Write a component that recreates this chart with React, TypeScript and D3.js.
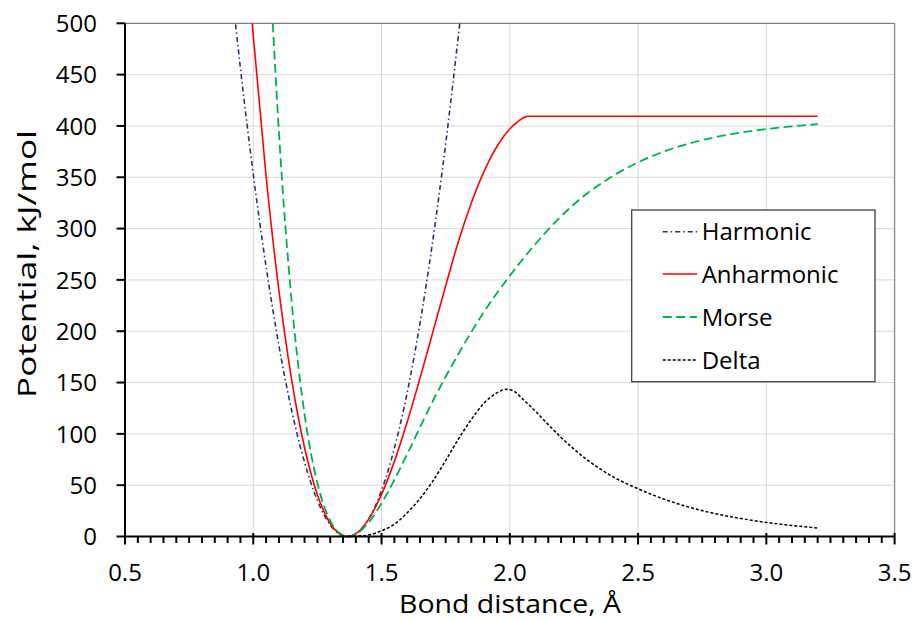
import React from "react";
import * as d3 from "d3";

// ---- data ----
const X_TICKS = [0.5, 1.0, 1.5, 2.0, 2.5, 3.0, 3.5];
const Y_TICKS = [0, 50, 100, 150, 200, 250, 300, 350, 400, 450, 500];

const harmonicR = [0.931, 0.95, 1.0, 1.05, 1.1, 1.15, 1.2, 1.25, 1.3, 1.33, 1.367, 1.4, 1.45, 1.5, 1.55, 1.6, 1.65, 1.7, 1.75, 1.805];
const harmonicV = [499, 456, 353, 263, 186, 122.5, 72.2, 35.1, 11.2, 3.2, 0, 2.4, 17, 44.8, 85.9, 140.2, 207.8, 288.6, 382.7, 500];

const anharmonicR = [0.996, 1.0, 1.05, 1.1, 1.15, 1.2, 1.25, 1.3, 1.33, 1.367, 1.4, 1.45, 1.5, 1.55, 1.6, 1.65, 1.7, 1.75, 1.8, 1.85, 1.9, 1.925, 1.95, 1.975, 2.0, 2.025, 2.05, 2.07, 2.1, 2.5, 3.0, 3.2];
const anharmonicV = [500, 488, 351, 239.7, 152.2, 86.5, 40.7, 12.7, 3.8, 0, 2.8, 16.9, 41.0, 73.2, 111.6, 154.3, 199.1, 244.2, 287.7, 325, 356, 369, 380, 389.5, 397, 403, 407.5, 409.5, 409.5, 409.5, 409.5, 409.5];

const morseR = [1.076, 1.1, 1.15, 1.2, 1.25, 1.3, 1.33, 1.37, 1.4, 1.45, 1.5, 1.55, 1.6, 1.7, 1.8, 1.9, 2.0, 2.1, 2.2, 2.3, 2.4, 2.5, 2.6, 2.7, 2.8, 2.9, 3.0, 3.1, 3.2];
const morseV = [500, 394, 228, 119, 52, 15.4, 4.7, 0, 2.2, 13.8, 32.4, 55.2, 80.3, 132, 178, 219, 254, 285, 312, 334, 351, 364.5, 375, 383, 389, 393.5, 397, 399.6, 401.7];

const deltaR = [1.37, 1.4, 1.45, 1.5, 1.55, 1.6, 1.65, 1.7, 1.75, 1.8, 1.85, 1.9, 1.95, 1.99, 2.02, 2.05, 2.1, 2.15, 2.2, 2.3, 2.4, 2.5, 2.6, 2.7, 2.8, 2.9, 3.0, 3.1, 3.2];
const deltaV = [0, 0.3, 1.5, 5.5, 12, 23, 37, 54, 74, 95, 114, 130, 140, 143.5, 141, 134, 122, 109, 96.5, 75, 58.5, 46.5, 36.5, 28.5, 22.3, 17.6, 13.7, 10.7, 8.2];

const SERIES_NAMES = ["Harmonic", "Anharmonic", "Morse", "Delta"];

const X_TITLE = "Bond distance, Å";
const Y_TITLE = "Potential, kJ/mol";

// ---- styles ----
const FONT = "'Open Sans', 'Noto Sans', sans-serif";
const styles = [
  { color: "#203864", dash: "5,3,1.5,3", width: 1.6 },
  { color: "#FF0000", dash: "", width: 1.6 },
  { color: "#00B050", dash: "9,4.5", width: 1.8 },
  { color: "#000000", dash: "3,2", width: 1.5 },
];

export default function App() {
  const W = 914, H = 619;
  const x = d3.scaleLinear().domain([0.5, 3.5]).range([125, 894.6]);
  const y = d3.scaleLinear().domain([0, 500]).range([536.5, 23.3]);

  const seriesData = [
    harmonicR.map((r, i) => [r, harmonicV[i]]),
    anharmonicR.map((r, i) => [r, anharmonicV[i]]),
    morseR.map((r, i) => [r, morseV[i]]),
    deltaR.map((r, i) => [r, deltaV[i]]),
  ];

  const line = d3
    .line<number[]>()
    .x((d) => x(d[0]))
    .y((d) => y(d[1]))
    .curve(d3.curveMonotoneX);

  const minorTicks = d3.range(0, 61).map((i) => 0.5 + i * 0.05).filter((v, i) => i % 10 !== 0);

  const legendX = 631.7, legendY = 210, legendW = 243.3, legendH = 171.7;
  const rowYs = [231.7, 274, 317, 360];

  return (
    <svg width={W} height={H} style={{ position: "absolute", left: 0, top: 0, background: "#fff" }} fontFamily={FONT}>
      <rect x={0} y={0} width={W} height={H} fill="#fff" />
      {/* gridlines */}
      {X_TICKS.slice(1, -1).map((v) => (
        <line key={"gx" + v} x1={x(v)} x2={x(v)} y1={y(0)} y2={y(500)} stroke="#D9D9D9" strokeWidth={1} />
      ))}
      {Y_TICKS.slice(1, -1).map((v) => (
        <line key={"gy" + v} x1={x(0.5)} x2={x(3.5)} y1={y(v)} y2={y(v)} stroke="#D9D9D9" strokeWidth={1} />
      ))}
      {/* frame top and right */}
      <line x1={x(0.5)} x2={x(3.5)} y1={y(500)} y2={y(500)} stroke="#7F7F7F" strokeWidth={1.3} />
      <line x1={x(3.5)} x2={x(3.5)} y1={y(0)} y2={y(500)} stroke="#8C8C8C" strokeWidth={1.3} />

      {/* series */}
      {seriesData.map((d, i) => (
        <path
          key={"s" + i}
          d={line(d as any) || ""}
          fill="none"
          stroke={styles[i].color}
          strokeWidth={styles[i].width}
          strokeDasharray={styles[i].dash || undefined}
        />
      ))}

      {/* axes */}
      <line x1={x(0.5)} x2={x(3.5)} y1={y(0)} y2={y(0)} stroke="#000" strokeWidth={2} />
      <line x1={x(0.5)} x2={x(0.5)} y1={y(0)} y2={y(500)} stroke="#000" strokeWidth={2} />
      {X_TICKS.map((v) => (
        <line key={"tx" + v} x1={x(v)} x2={x(v)} y1={y(0) - 3.5} y2={y(0) + 8} stroke="#000" strokeWidth={2} />
      ))}
      {minorTicks.map((v) => (
        <line key={"mx" + v} x1={x(v)} x2={x(v)} y1={y(0)} y2={y(0) + 6.5} stroke="#000" strokeWidth={2} />
      ))}
      {Y_TICKS.map((v) => (
        <line key={"ty" + v} x1={x(0.5) - 8.5} x2={x(0.5)} y1={y(v)} y2={y(v)} stroke="#000" strokeWidth={2} />
      ))}

      {/* tick labels */}
      {X_TICKS.map((v) => (
        <text key={"lx" + v} x={x(v)} y={581} textAnchor="middle" fontSize={24} fill="#000">
          {v.toFixed(1)}
        </text>
      ))}
      {Y_TICKS.map((v) => (
        <text key={"ly" + v} x={97} y={y(v)} dy="0.36em" textAnchor="end" fontSize={24} fill="#000">
          {v}
        </text>
      ))}

      {/* axis titles */}
      <text x={510} y={613} textAnchor="middle" fontSize={25} fill="#000" textLength={222} lengthAdjust="spacingAndGlyphs">
        {X_TITLE}
      </text>
      <text transform={`translate(36,${264}) rotate(-90)`} textAnchor="middle" fontSize={26} fill="#000" textLength={268} lengthAdjust="spacingAndGlyphs">
        {Y_TITLE}
      </text>

      {/* legend */}
      <rect x={legendX} y={legendY} width={legendW} height={legendH} fill="#fff" stroke="#404040" strokeWidth={1.3} />
      {SERIES_NAMES.map((name, i) => (
        <g key={"lg" + i}>
          <line
            x1={662.7}
            x2={697}
            y1={rowYs[i]}
            y2={rowYs[i]}
            stroke={styles[i].color}
            strokeWidth={styles[i].width}
            strokeDasharray={styles[i].dash || undefined}
          />
          <text x={701.7} y={rowYs[i]} dy="0.36em" fontSize={24} fill="#000">
            {name}
          </text>
        </g>
      ))}
    </svg>
  );
}
